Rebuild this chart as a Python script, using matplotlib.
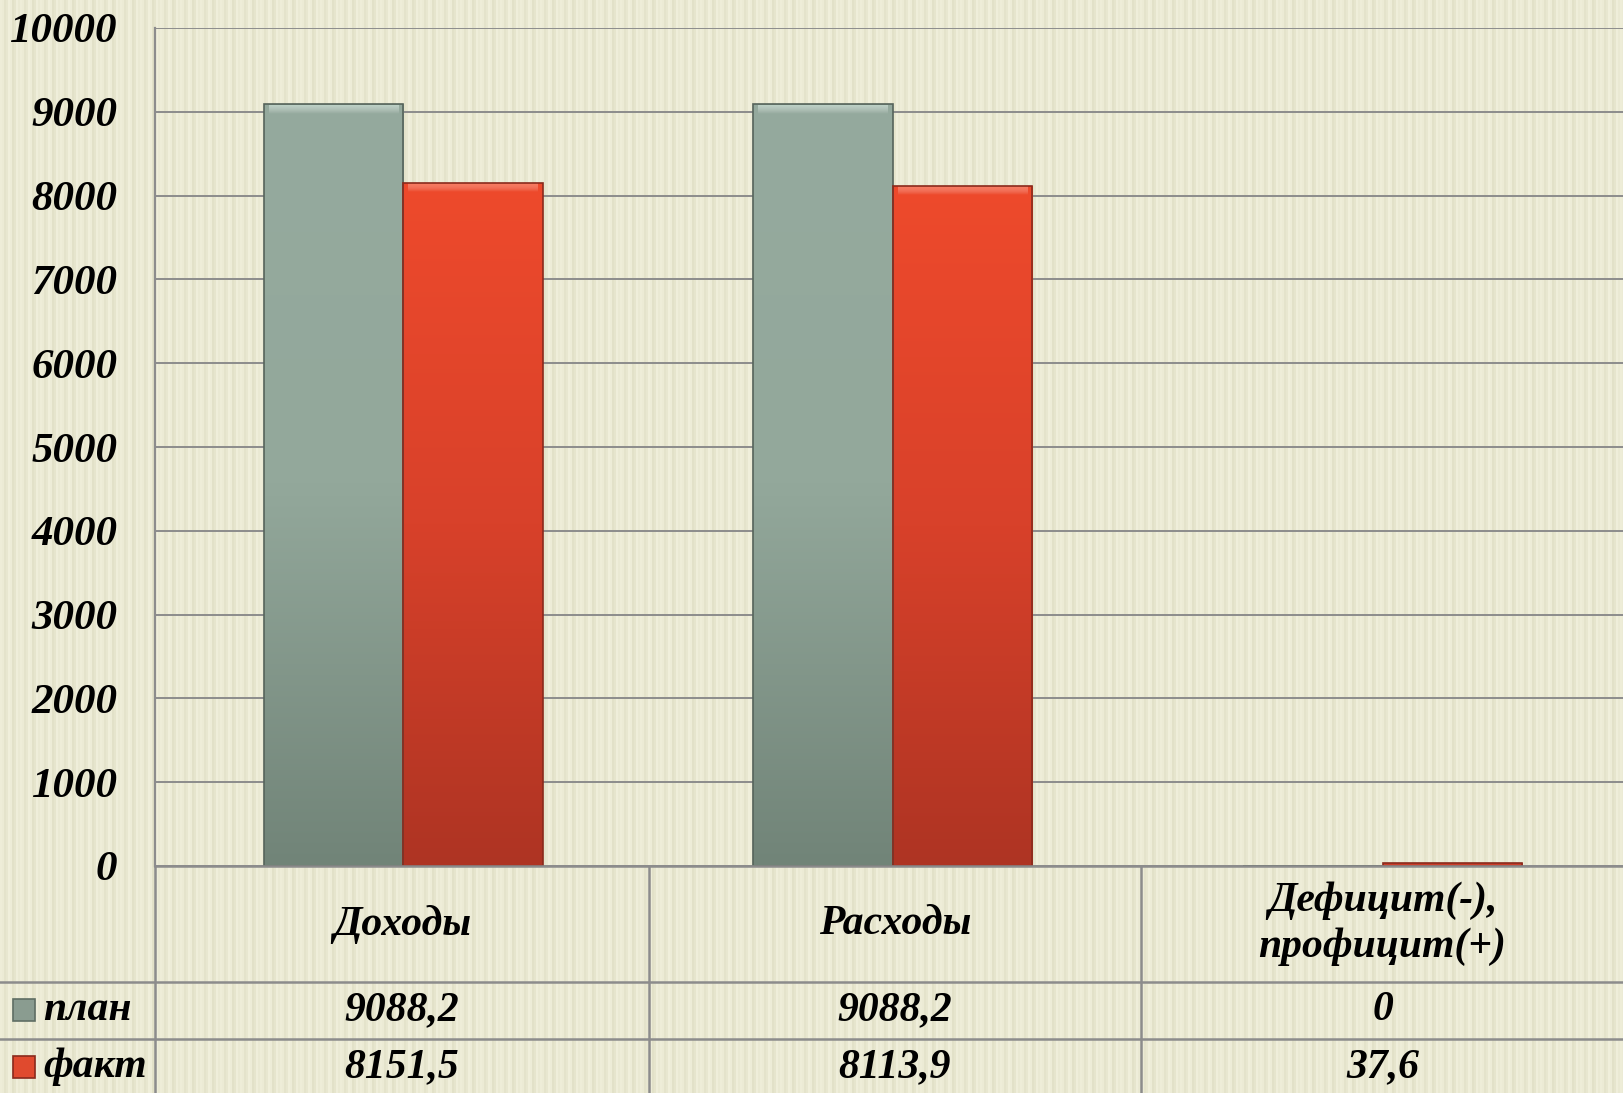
import numpy as np
import matplotlib
matplotlib.use("Agg")
import matplotlib.pyplot as plt
from matplotlib.colors import LinearSegmentedColormap

plt.rcParams['font.family'] = ['Liberation Serif', 'DejaVu Serif']

# data
categories = ['Доходы', 'Расходы', 'Дефицит(-),\nпрофицит(+)']
series_names = ['план', 'факт']
plan = [9088.2, 9088.2, 0]
fact = [8151.5, 8113.9, 37.6]
plan_labels = ['9088,2', '9088,2', '0']
fact_labels = ['8151,5', '8113,9', '37,6']
yticks = [0, 1000, 2000, 3000, 4000, 5000, 6000, 7000, 8000, 9000, 10000]

W, H = 1624, 1093
fig = plt.figure(figsize=(W / 100, H / 100), dpi=100)

# striped cream background
tile = np.array([
    [238, 237, 216], [236, 235, 213], [228, 227, 203], [232, 231, 208],
    [240, 239, 219], [237, 236, 215], [226, 225, 200], [230, 229, 205],
    [239, 238, 218], [234, 233, 211],
]) / 255.0
cols = np.array([tile[(i // 2) % len(tile)] for i in range(W)])
bg = np.repeat(cols[None, :, :], H, axis=0)
fig.figimage(bg, xo=0, yo=0, zorder=-10)

def fx(px):
    return px / W

def fy(py):
    return 1 - py / H

x_left, y_top, y_zero = 155, 28, 866
ax = fig.add_axes([fx(x_left), fy(y_zero), 1 - fx(x_left), fy(y_top) - fy(y_zero)])
ax.set_zorder(2)
ax.patch.set_alpha(0)

x = np.arange(len(categories)) + 0.007
bw = 0.285
grad = np.linspace(0, 1, 256).reshape(-1, 1)
cmap_plan = LinearSegmentedColormap.from_list('p', ['#718478', '#93a89b', '#95aa9e'])
cmap_fact = LinearSegmentedColormap.from_list('f', ['#ae3423', '#d8412a', '#ee4a2c'])
hl = np.linspace(0, 1, 64).reshape(-1, 1)

def draw_bars(xpos, vals, cmap, edge, hi):
    bars = ax.bar(xpos, vals, width=bw, color='none', edgecolor=edge, linewidth=1.2, zorder=3)
    for b in bars:
        x0, w, h = b.get_x(), b.get_width(), b.get_height()
        if h <= 0:
            continue
        im = ax.imshow(grad, extent=[x0, x0 + w, 0, h], origin='lower', cmap=cmap,
                       aspect='auto', zorder=2, interpolation='bicubic')
        im.set_clip_path(b)
        # bevel highlight on top
        if h > 500:
            hcm = LinearSegmentedColormap.from_list('h', [(1, 1, 1, 0), hi])
            ax.imshow(hl, extent=[x0 + 0.01, x0 + w - 0.01, h - 110, h - 8], origin='lower',
                      cmap=hcm, aspect='auto', zorder=2.5, alpha=0.6)
    return bars

draw_bars(x - bw / 2, plan, cmap_plan, '#56645b', '#d8ebe2')
draw_bars(x + bw / 2, fact, cmap_fact, '#8a2a1c', '#ff9a80')

ax.set_xlim(-0.5, len(categories) - 0.5)
ax.set_ylim(0, 10000)
ax.set_yticks(yticks)
ax.set_yticklabels([str(v) for v in yticks], fontsize=31, fontweight='bold', fontstyle='italic')
ax.tick_params(axis='y', length=0, pad=27)
ax.set_xticks([])
ax.yaxis.grid(True, color='#8c8c8c', linewidth=1.4, zorder=1)
ax.set_axisbelow(True)
for s in ['top', 'right', 'bottom']:
    ax.spines[s].set_visible(False)
ax.spines['left'].set_color('#8c8c8c')
ax.spines['left'].set_linewidth(1.6)

# data table under the chart
line_kw = dict(color='#8c8c8c', linewidth=1.8, transform=fig.transFigure, zorder=5)
col_edges = [155, 649, 1141, W]
fig.add_artist(plt.Line2D([fx(155), 1], [fy(866), fy(866)], **line_kw))
fig.add_artist(plt.Line2D([0, 1], [fy(982), fy(982)], **line_kw))
fig.add_artist(plt.Line2D([0, 1], [fy(1039), fy(1039)], **line_kw))
fig.add_artist(plt.Line2D([fx(155), fx(155)], [fy(866), 0], **line_kw))
for cx in col_edges[1:-1]:
    fig.add_artist(plt.Line2D([fx(cx), fx(cx)], [fy(866), 0], **line_kw))

txt_kw = dict(fontsize=30, fontweight='bold', fontstyle='italic', ha='center', va='center',
              transform=fig.transFigure, zorder=6)
for i, cat in enumerate(categories):
    cxm = (col_edges[i] + col_edges[i + 1]) / 2
    fig.text(fx(cxm), fy(924), cat, linespacing=1.25, **txt_kw)
    fig.text(fx(cxm), fy(1010), plan_labels[i], **txt_kw)
    fig.text(fx(cxm), fy(1067), fact_labels[i], **txt_kw)

# legend keys in first column
key_cols = [('#8a9c90', '#5f6e64'), ('#e04a2e', '#8a2a1c')]
for name, (fc, ec), yc in zip(series_names, key_cols, [1010, 1067]):
    fig.patches.append(plt.Rectangle((fx(13), fy(yc + 11)), fx(22), 22 / H, facecolor=fc,
                                     edgecolor=ec, linewidth=1.2, transform=fig.transFigure,
                                     zorder=6))
    fig.text(fx(43), fy(yc), name, fontsize=30, fontweight='bold', fontstyle='italic',
             ha='left', va='center', transform=fig.transFigure, zorder=6)

fig.savefig('out.png', dpi=100)
